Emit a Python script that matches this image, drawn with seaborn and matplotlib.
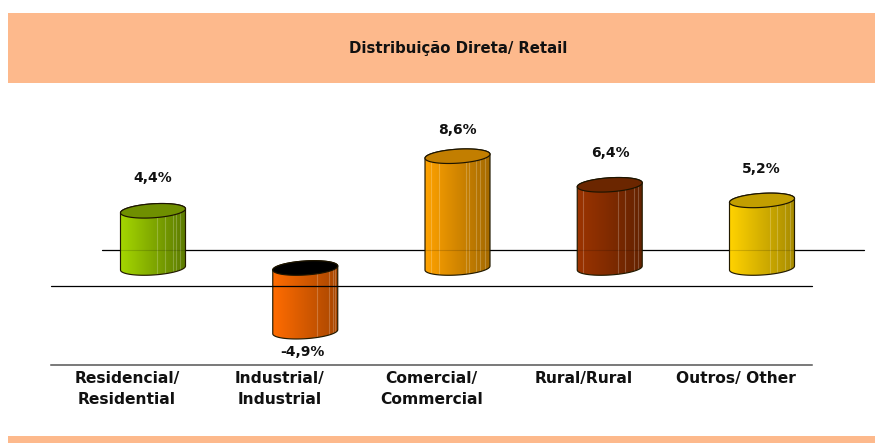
import numpy as np
import pandas as pd
import matplotlib
matplotlib.use('Agg')
import matplotlib.pyplot as plt
from matplotlib.patches import Rectangle, Polygon
import seaborn as sns

categorias = ['Residencial/\nResidential', 'Industrial/\nIndustrial', 'Comercial/\nCommercial', 'Rural/Rural', 'Outros/ Other']
valores = [4.4, -4.9, 8.6, 6.4, 5.2]
rotulos = ['4,4%', '-4,9%', '8,6%', '6,4%', '5,2%']
titulo = 'Distribuição Direta/ Retail'

cor_esq = ['#a4d600', '#ff6c00', '#ffa200', '#9c3400', '#ffd200']
cor_dir = ['#5c7a00', '#a84600', '#a56a00', '#642200', '#a68a00']
cor_topo = ['#6f8f00', '#000000', '#c27e00', '#6b2600', '#c29e00']
listras = [[.56, .68, .80, .85, .92], [.68, .86, .92, .96], [.09, .21, .63, .68, .79, .85, .93],
           [.09, .62, .73, .88, .93], [.62, .73, .86, .93]]
desloc = [33, 20, 26, 32, 31]  # distancia do rotulo em px
desloc_x = [0, -3, 0, 1, -1]

sns.set_theme(style='white')
plt.rcParams['font.family'] = ['DejaVu Sans']

W, H = 875, 443
PX_POR_UNID = 13.0
PASSO = 152.25
fig = plt.figure(figsize=(W / 100, H / 100), dpi=100, facecolor='white')

# faixas laranja
fig.add_artist(Rectangle((8 / W, 1 - 83 / H), 867 / W, 70 / H, transform=fig.transFigure, fc='#fdb98c', ec='none'))
fig.add_artist(Rectangle((8 / W, 0), 867 / W, 7 / H, transform=fig.transFigure, fc='#fdb98c', ec='none'))
fig.text(458 / W, 1 - 49 / H, titulo, ha='center', va='center', fontsize=10.7, fontweight='bold', color='#111111')

# eixo em px: topo 83, base 365
ax = fig.add_axes([0, 1 - 365 / H, 1, 282 / H])
ax.patch.set_alpha(0)

df = pd.DataFrame({'cat': categorias, 'val': valores})
sns.barplot(data=df, x='cat', y='val', hue='cat', palette=cor_esq, width=65 / PASSO, legend=False, saturation=1, ax=ax)
ax.set_xlim(-153 / PASSO, (W - 153) / PASSO)
ax.set_ylim(-97 / PX_POR_UNID, 185 / PX_POR_UNID)

a_elip = 7 / PX_POR_UNID
incl = 2 / PX_POR_UNID
t = np.linspace(0, 2 * np.pi, 121)


def elipse(cx, cy, meia_larg):
    return np.column_stack([cx + meia_larg * np.cos(t), cy + a_elip * np.sin(t) + incl * np.cos(t)])


# linhas de fundo
x_px = lambda p: (p - 153) / PASSO
ax.plot([x_px(102), x_px(864)], [18 / PX_POR_UNID] * 2, color='black', lw=0.9, zorder=1)

for i, barra in enumerate(ax.patches[:len(valores)]):
    x0 = barra.get_x()
    larg = barra.get_width()
    cx = x0 + larg / 2
    topo = max(barra.get_y(), barra.get_y() + barra.get_height())
    base = min(barra.get_y(), barra.get_y() + barra.get_height())
    barra.set_visible(False)

    el_topo = elipse(cx, topo, larg / 2)
    el_base = elipse(cx, base, larg / 2)
    # corpo: arco inferior da base + arco do topo
    metade = len(t) // 2
    corpo = np.vstack([el_base[metade:], el_topo[:metade + 1]])
    contorno = Polygon(corpo, closed=True, fc='none', ec='#221a00', lw=0.85, zorder=4)
    ax.add_patch(contorno)

    c1 = np.array(matplotlib.colors.to_rgb(cor_esq[i]))
    c2 = np.array(matplotlib.colors.to_rgb(cor_dir[i]))
    f = np.linspace(0, 1, 130)[:, None]
    grad = (c1 * (1 - f) + c2 * f)[None, :, :]
    im = ax.imshow(grad, extent=[x0, x0 + larg, base - 1, topo + 1], aspect='auto', zorder=2, interpolation='bilinear')
    im.set_clip_path(contorno)
    for lx in listras[i]:
        ln = ax.plot([x0 + lx * larg] * 2, [base - 1, topo + 1], color='white', lw=0.8, alpha=0.22, zorder=3)[0]
        ln.set_clip_path(contorno)

    ax.add_patch(Polygon(el_topo, closed=True, fc=cor_topo[i], ec='#1c1400', lw=0.85, zorder=5))

    ponta = base if valores[i] < 0 else topo
    sinal = -1 if valores[i] < 0 else 1
    ax.annotate(rotulos[i], (cx, ponta), xytext=(desloc_x[i] * 0.72, sinal * desloc[i] * 0.72), textcoords='offset points',
                ha='center', va='center', fontsize=10, fontweight='bold', color='#111111', zorder=6)

# linhas por cima dos cilindros (quase apagada na superior)
ax.plot([x_px(102), x_px(864)], [18 / PX_POR_UNID] * 2, color='black', lw=0.8, alpha=0.15, zorder=4.5)
ax.plot([x_px(51), x_px(812)], [-18 / PX_POR_UNID] * 2, color='black', lw=0.9, zorder=4.5)

sns.despine(ax=ax, left=True)
ax.spines['bottom'].set_bounds(x_px(51), x_px(812))
ax.spines['bottom'].set_color('#555555')
ax.spines['bottom'].set_linewidth(1.1)
ax.set_yticks([])
ax.set_ylabel('')
ax.set_xlabel('')
ax.set_xticks(np.arange(5) - 26 / PASSO)
ax.set_xticklabels(categorias, fontsize=11.2, fontweight='bold', color='#111111', linespacing=1.5)
ax.tick_params(axis='x', length=0, pad=4)

fig.savefig('out.png', dpi=100)
